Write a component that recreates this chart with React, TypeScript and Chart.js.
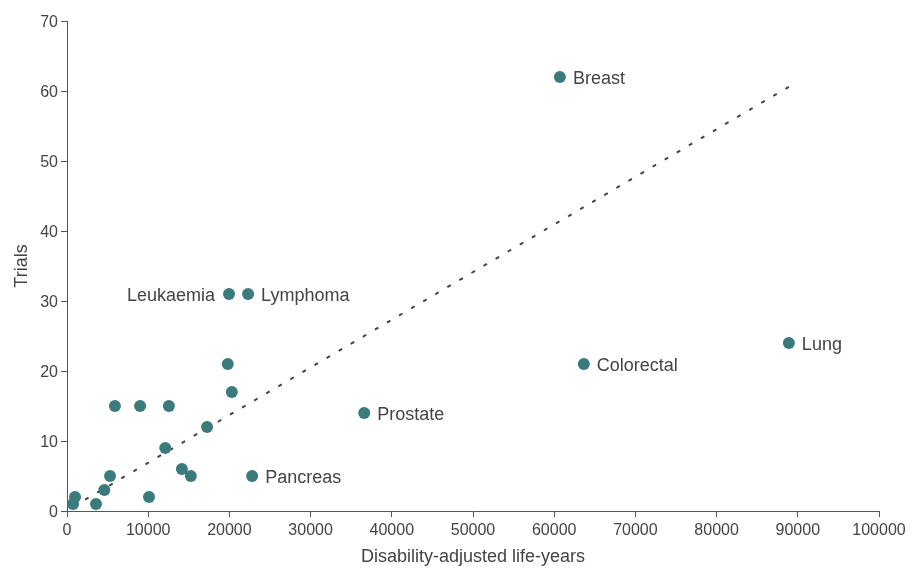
import React, { useEffect, useRef } from "react";
import { Chart, registerables } from "chart.js";

Chart.register(...registerables);

const dalys = [740, 985, 3570, 4600, 5300, 5900, 9000, 10100, 12100, 12550, 14150, 15250, 17250, 19800, 19950, 20300, 22300, 22800, 36600, 60700, 63650, 88900];
const trials = [1, 2, 1, 3, 5, 15, 15, 2, 9, 15, 6, 5, 12, 21, 31, 17, 31, 5, 14, 62, 21, 24];
const names = ["", "", "", "", "", "", "", "", "", "", "", "", "", "", "Leukaemia", "", "Lymphoma", "Pancreas", "Prostate", "Breast", "Colorectal", "Lung"];
const leftLabelled = ["Leukaemia"];

const trendX = [740, 88900];
const trendY = [0.6, 60.6];

const xTicks = [0, 10000, 20000, 30000, 40000, 50000, 60000, 70000, 80000, 90000, 100000];
const yTicks = [0, 10, 20, 30, 40, 50, 60, 70];

const FONT = "'Liberation Sans', Arial, Helvetica, sans-serif";
const TEXT = "#444444";
const AXIS = "#555555";
const TEAL = "#3b7b7b";

const labelPlugin = {
  id: "pointLabels",
  afterDatasetsDraw(chart: any) {
    const meta = chart.getDatasetMeta(0);
    const ctx = chart.ctx;
    ctx.save();
    ctx.font = `18px ${FONT}`;
    ctx.fillStyle = TEXT;
    ctx.textBaseline = "middle";
    meta.data.forEach((el: any, i: number) => {
      const name = names[i];
      if (!name) return;
      if (leftLabelled.includes(name)) {
        ctx.textAlign = "right";
        ctx.fillText(name, el.x - 14, el.y + 2.5);
      } else {
        ctx.textAlign = "left";
        ctx.fillText(name, el.x + 13, el.y + 2.5);
      }
    });
    ctx.restore();
  },
};

export default function App() {
  const ref = useRef<HTMLCanvasElement>(null);
  useEffect(() => {
    if (!ref.current) return;
    const chart = new Chart(ref.current, {
      type: "scatter",
      data: {
        datasets: [
          {
            label: "Cancers",
            data: dalys.map((x, i) => ({ x, y: trials[i] })),
            backgroundColor: TEAL,
            borderColor: TEAL,
            borderWidth: 0,
            pointRadius: 6,
            order: 0,
          },
          {
            type: "line",
            label: "Trend",
            data: trendX.map((x, i) => ({ x, y: trendY[i] })),
            borderColor: "#444444",
            borderWidth: 2,
            borderDash: [4, 10],
            pointRadius: 0,
            fill: false,
            order: 1,
          } as any,
        ],
      },
      options: {
        animation: false,
        responsive: true,
        maintainAspectRatio: false,
        events: [],
        layout: { padding: { left: 0, right: 33, top: 21, bottom: 0 } },
        plugins: {
          legend: { display: false },
          tooltip: { enabled: false },
        },
        scales: {
          x: {
            type: "linear",
            min: 0,
            max: 100000,
            afterBuildTicks: (s: any) => {
              s.ticks = xTicks.map((v) => ({ value: v }));
            },
            afterFit: (s: any) => {
              s.height = 59;
            },
            grid: {
              drawOnChartArea: false,
              drawTicks: true,
              tickLength: 6,
              color: AXIS,
              lineWidth: 1,
            },
            border: { display: true, color: AXIS, width: 1 },
            ticks: {
              color: TEXT,
              font: { family: FONT, size: 16 },
              padding: 4,
              maxRotation: 0,
              autoSkip: false,
              callback: (v: any) => String(v),
            },
            title: {
              display: true,
              text: "Disability-adjusted life-years",
              color: TEXT,
              font: { family: FONT, size: 18 },
              padding: { top: 4, bottom: 2 },
            },
          },
          y: {
            type: "linear",
            min: 0,
            max: 70,
            afterBuildTicks: (s: any) => {
              s.ticks = yTicks.map((v) => ({ value: v }));
            },
            afterFit: (s: any) => {
              s.width = 67;
            },
            grid: {
              drawOnChartArea: false,
              drawTicks: true,
              tickLength: 6,
              color: AXIS,
              lineWidth: 1,
            },
            border: { display: true, color: AXIS, width: 1 },
            ticks: {
              color: TEXT,
              font: { family: FONT, size: 16 },
              padding: 3,
              labelOffset: 2,
              autoSkip: false,
              callback: (v: any) => String(v),
            },
            title: {
              display: true,
              text: "Trials",
              color: TEXT,
              font: { family: FONT, size: 18 },
              padding: { top: 11, bottom: 0 },
            },
          },
        },
      },
      plugins: [labelPlugin],
    });
    return () => chart.destroy();
  }, []);
  return (
    <div style={{ position: "fixed", left: 0, top: 0, width: 912, height: 570, background: "#fff" }}>
      <canvas ref={ref} />
    </div>
  );
}
